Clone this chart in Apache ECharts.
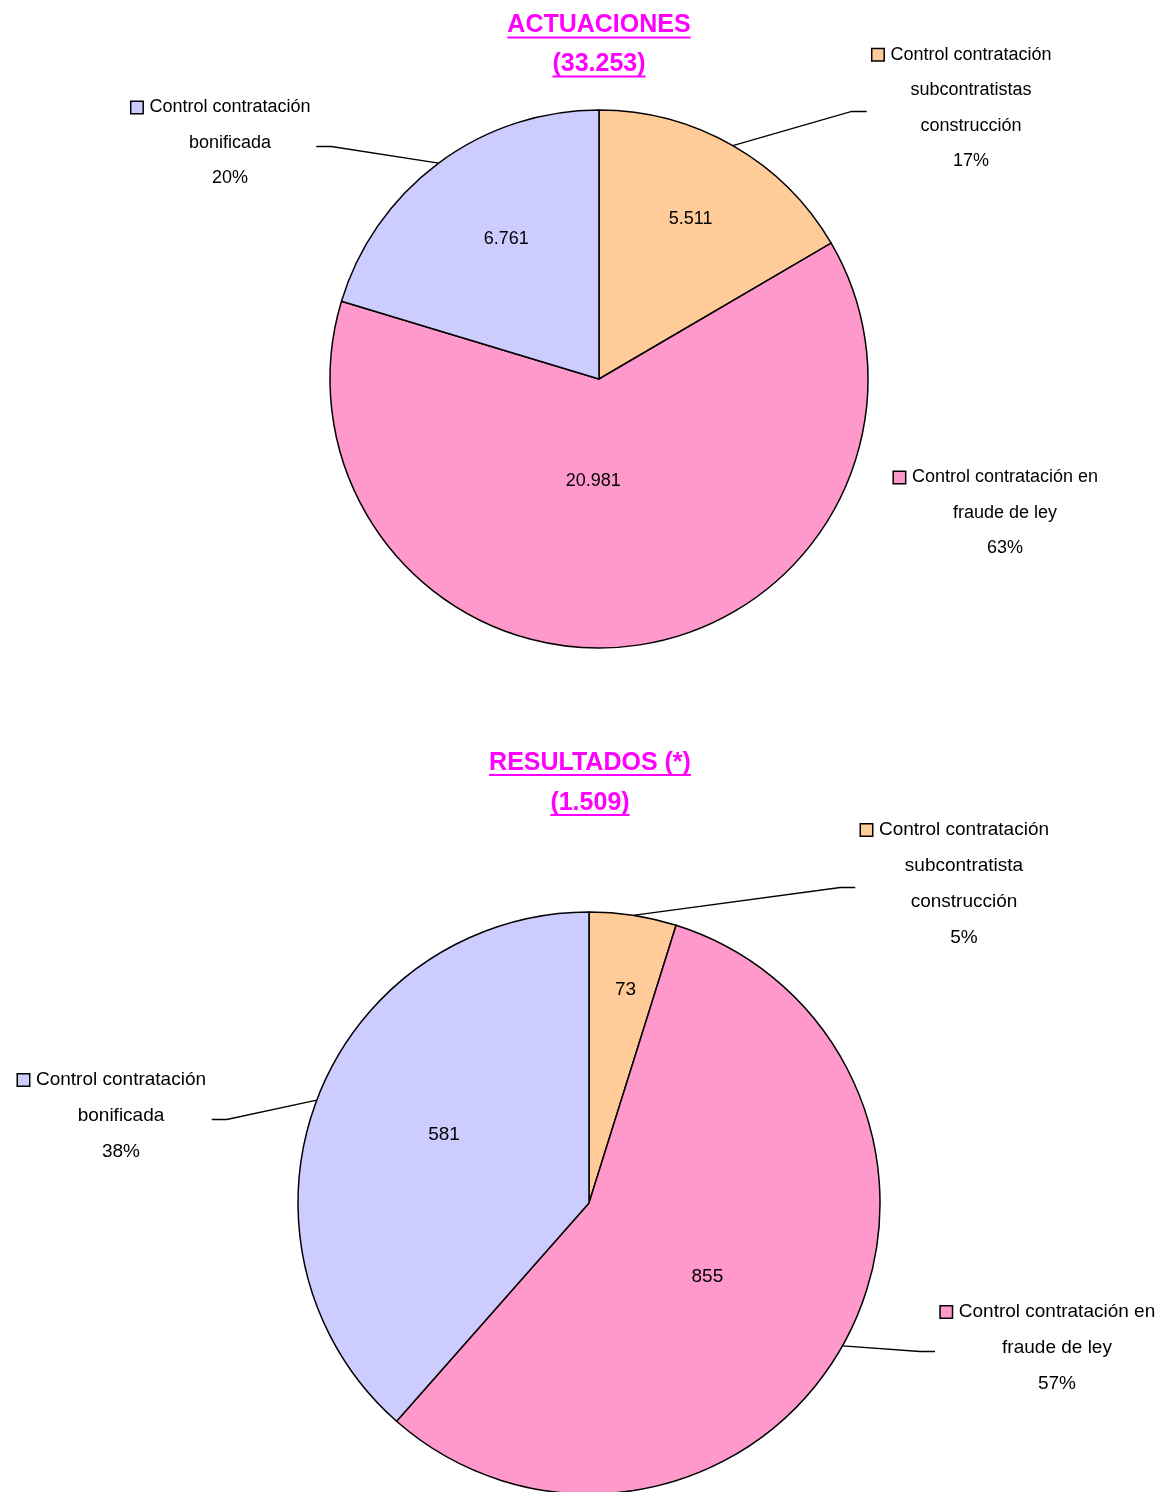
<!DOCTYPE html>
<html>
<head>
<meta charset="utf-8">
<title>Actuaciones y resultados</title>
<script src="https://cdn.jsdelivr.net/npm/echarts@6/dist/echarts.min.js"></script>
<style>
  html, body { margin: 0; padding: 0; background: #fff; }
  #chart { width: 1157px; height: 1492px; }
</style>
</head>
<body>
<div id="chart"></div>
<script>
// data
var topTitle = 'ACTUACIONES'
var bottomTitle = 'RESULTADOS (*)'
var topNames = ['Control contratación\nsubcontratistas\nconstrucción', 'Control contratación en\nfraude de ley', 'Control contratación\nbonificada']
var topValues = [5511, 20981, 6761]
var bottomNames = ['Control contratación\nsubcontratista\nconstrucción', 'Control contratación en\nfraude de ley', 'Control contratación\nbonificada']
var bottomValues = [73, 855, 581]
var sliceColors = ['#FFCC99', '#FF99CC', '#CCCCFF']

var FONT = "'Liberation Sans Narrow', 'Arial Narrow', 'Liberation Sans', Arial, sans-serif"
var MARK = 11
var GAP = 7

function fmt(v) {
  return String(v).replace(/\B(?=(\d{3})+(?!\d))/g, '.')
}
function sum(a) {
  return a.reduce(function(s, v) { return s + v }, 0)
}

// layout of the two pies
// inner: [fraction of radius, extra rotation in degrees] for the value labels
var pies = [
  {
    names: topNames, values: topValues, title: topTitle,
    center: [599, 379], radius: 269, font: 18, lineH: 35.5, valueFont: 18,
    inner: [[0.67, 0], [0.37, 10], [0.61, 3]],
    labelPos: [[971, 108], [1005, 513], [230, 143]],
    showLine: [true, false, true],
    titleX: 599, titleTop: 6, titleLH: 39
  },
  {
    names: bottomNames, values: bottomValues, title: bottomTitle,
    center: [589, 1203], radius: 291, font: 19, lineH: 36, valueFont: 19,
    inner: [[0.73, 1], [0.47, 2.6], [0.54, 4.6]],
    labelPos: [[964, 884], [1057, 1348], [121, 1116]],
    showLine: [true, true, true],
    titleX: 590, titleTop: 743, titleLH: 40
  }
]

var TITLE_SIZE = 25

var measure = document.createElement('canvas').getContext('2d')
function boldWidth(s, size) {
  measure.font = 'bold ' + size + 'px ' + FONT
  return measure.measureText(s).width
}

var series = []
var titles = []
var graphics = []

pies.forEach(function(p) {
  var rich = {
    t: { fontFamily: FONT, fontSize: p.font, lineHeight: p.lineH, color: '#000' },
    s: { width: GAP },
    p: { width: MARK + GAP }
  }
  sliceColors.forEach(function(c, i) {
    rich['m' + i] = { width: MARK, height: MARK, backgroundColor: c, borderColor: '#000', borderWidth: 1.5 }
  })

  // slices with the values inside
  series.push({
    type: 'pie',
    center: p.center,
    radius: p.radius,
    startAngle: 90,
    clockwise: true,
    avoidLabelOverlap: false,
    silent: true,
    itemStyle: { borderColor: '#000', borderWidth: 1.5 },
    label: {
      position: 'inside',
      fontFamily: FONT,
      fontSize: p.valueFont,
      color: '#000',
      formatter: function(q) { return fmt(q.value) }
    },
    labelLine: { show: false },
    labelLayout: function(params) {
      var r = params.labelRect
      var dx = r.x + r.width / 2 - p.center[0]
      var dy = r.y + r.height / 2 - p.center[1]
      var k = p.inner[params.dataIndex][0] / 0.5
      var a = p.inner[params.dataIndex][1] * Math.PI / 180
      return {
        x: p.center[0] + (dx * Math.cos(a) - dy * Math.sin(a)) * k,
        y: p.center[1] + (dx * Math.sin(a) + dy * Math.cos(a)) * k,
        align: 'center',
        verticalAlign: 'middle'
      }
    },
    data: p.values.map(function(v, i) {
      return { name: p.names[i], value: v, itemStyle: { color: sliceColors[i] }}
    })
  })

  // same slices, invisible, carrying the outside labels
  series.push({
    type: 'pie',
    center: p.center,
    radius: p.radius,
    startAngle: 90,
    clockwise: true,
    avoidLabelOverlap: false,
    silent: true,
    percentPrecision: 0,
    itemStyle: { color: 'rgba(0,0,0,0)', borderWidth: 0 },
    label: {
      position: 'outside',
      fontFamily: FONT,
      fontSize: p.font,
      lineHeight: p.lineH,
      color: '#000',
      align: 'center',
      rich: rich,
      formatter: function(q) {
        var lines = q.name.split('\n')
        var first = '{m' + q.dataIndex + '|}{s|}{t|' + lines[0] + '}{p|}'
        return [first].concat(lines.slice(1), [q.percent + '%']).join('\n')
      }
    },
    labelLine: { show: true, length: 20, length2: 15, lineStyle: { color: '#000', width: 1.3 }},
    labelLayout: function(params) {
      var i = params.dataIndex
      var pos = p.labelPos[i]
      var w = params.labelRect.width
      var right = pos[0] > p.center[0]
      var endX = right ? pos[0] - w / 2 - 5 : pos[0] + w / 2 - (MARK + GAP) + 5
      var ly = pos[1] + 3.5
      var res = { x: pos[0], y: pos[1], align: 'center', verticalAlign: 'middle' }
      var pts = params.labelLinePoints
      if (pts) {
        res.labelLinePoints = [pts[0], [endX + (right ? -15 : 15), ly], [endX, ly]]
      }
      return res
    },
    data: p.values.map(function(v, i) {
      return { name: p.names[i], value: v, labelLine: { show: p.showLine[i] }}
    })
  })

  // title with its total
  var tLines = [p.title, '(' + fmt(sum(p.values)) + ')']
  titles.push({
    text: tLines.join('\n'),
    left: p.titleX,
    top: p.titleTop,
    padding: 0,
    textAlign: 'center',
    textStyle: { fontFamily: FONT, fontSize: TITLE_SIZE, fontWeight: 'bold', color: '#FF00FF', lineHeight: p.titleLH }
  })
  tLines.forEach(function(s, li) {
    var w = boldWidth(s, TITLE_SIZE)
    graphics.push({
      type: 'rect',
      silent: true,
      shape: { x: p.titleX - w / 2, y: p.titleTop + p.titleLH * li + p.titleLH / 2 + 11, width: w, height: 2 },
      style: { fill: '#FF00FF' }
    })
  })
})

var chart = echarts.init(document.getElementById('chart'))
chart.setOption({
  animation: false,
  backgroundColor: '#fff',
  title: titles,
  graphic: graphics,
  series: series
})
</script>
</body>
</html>
